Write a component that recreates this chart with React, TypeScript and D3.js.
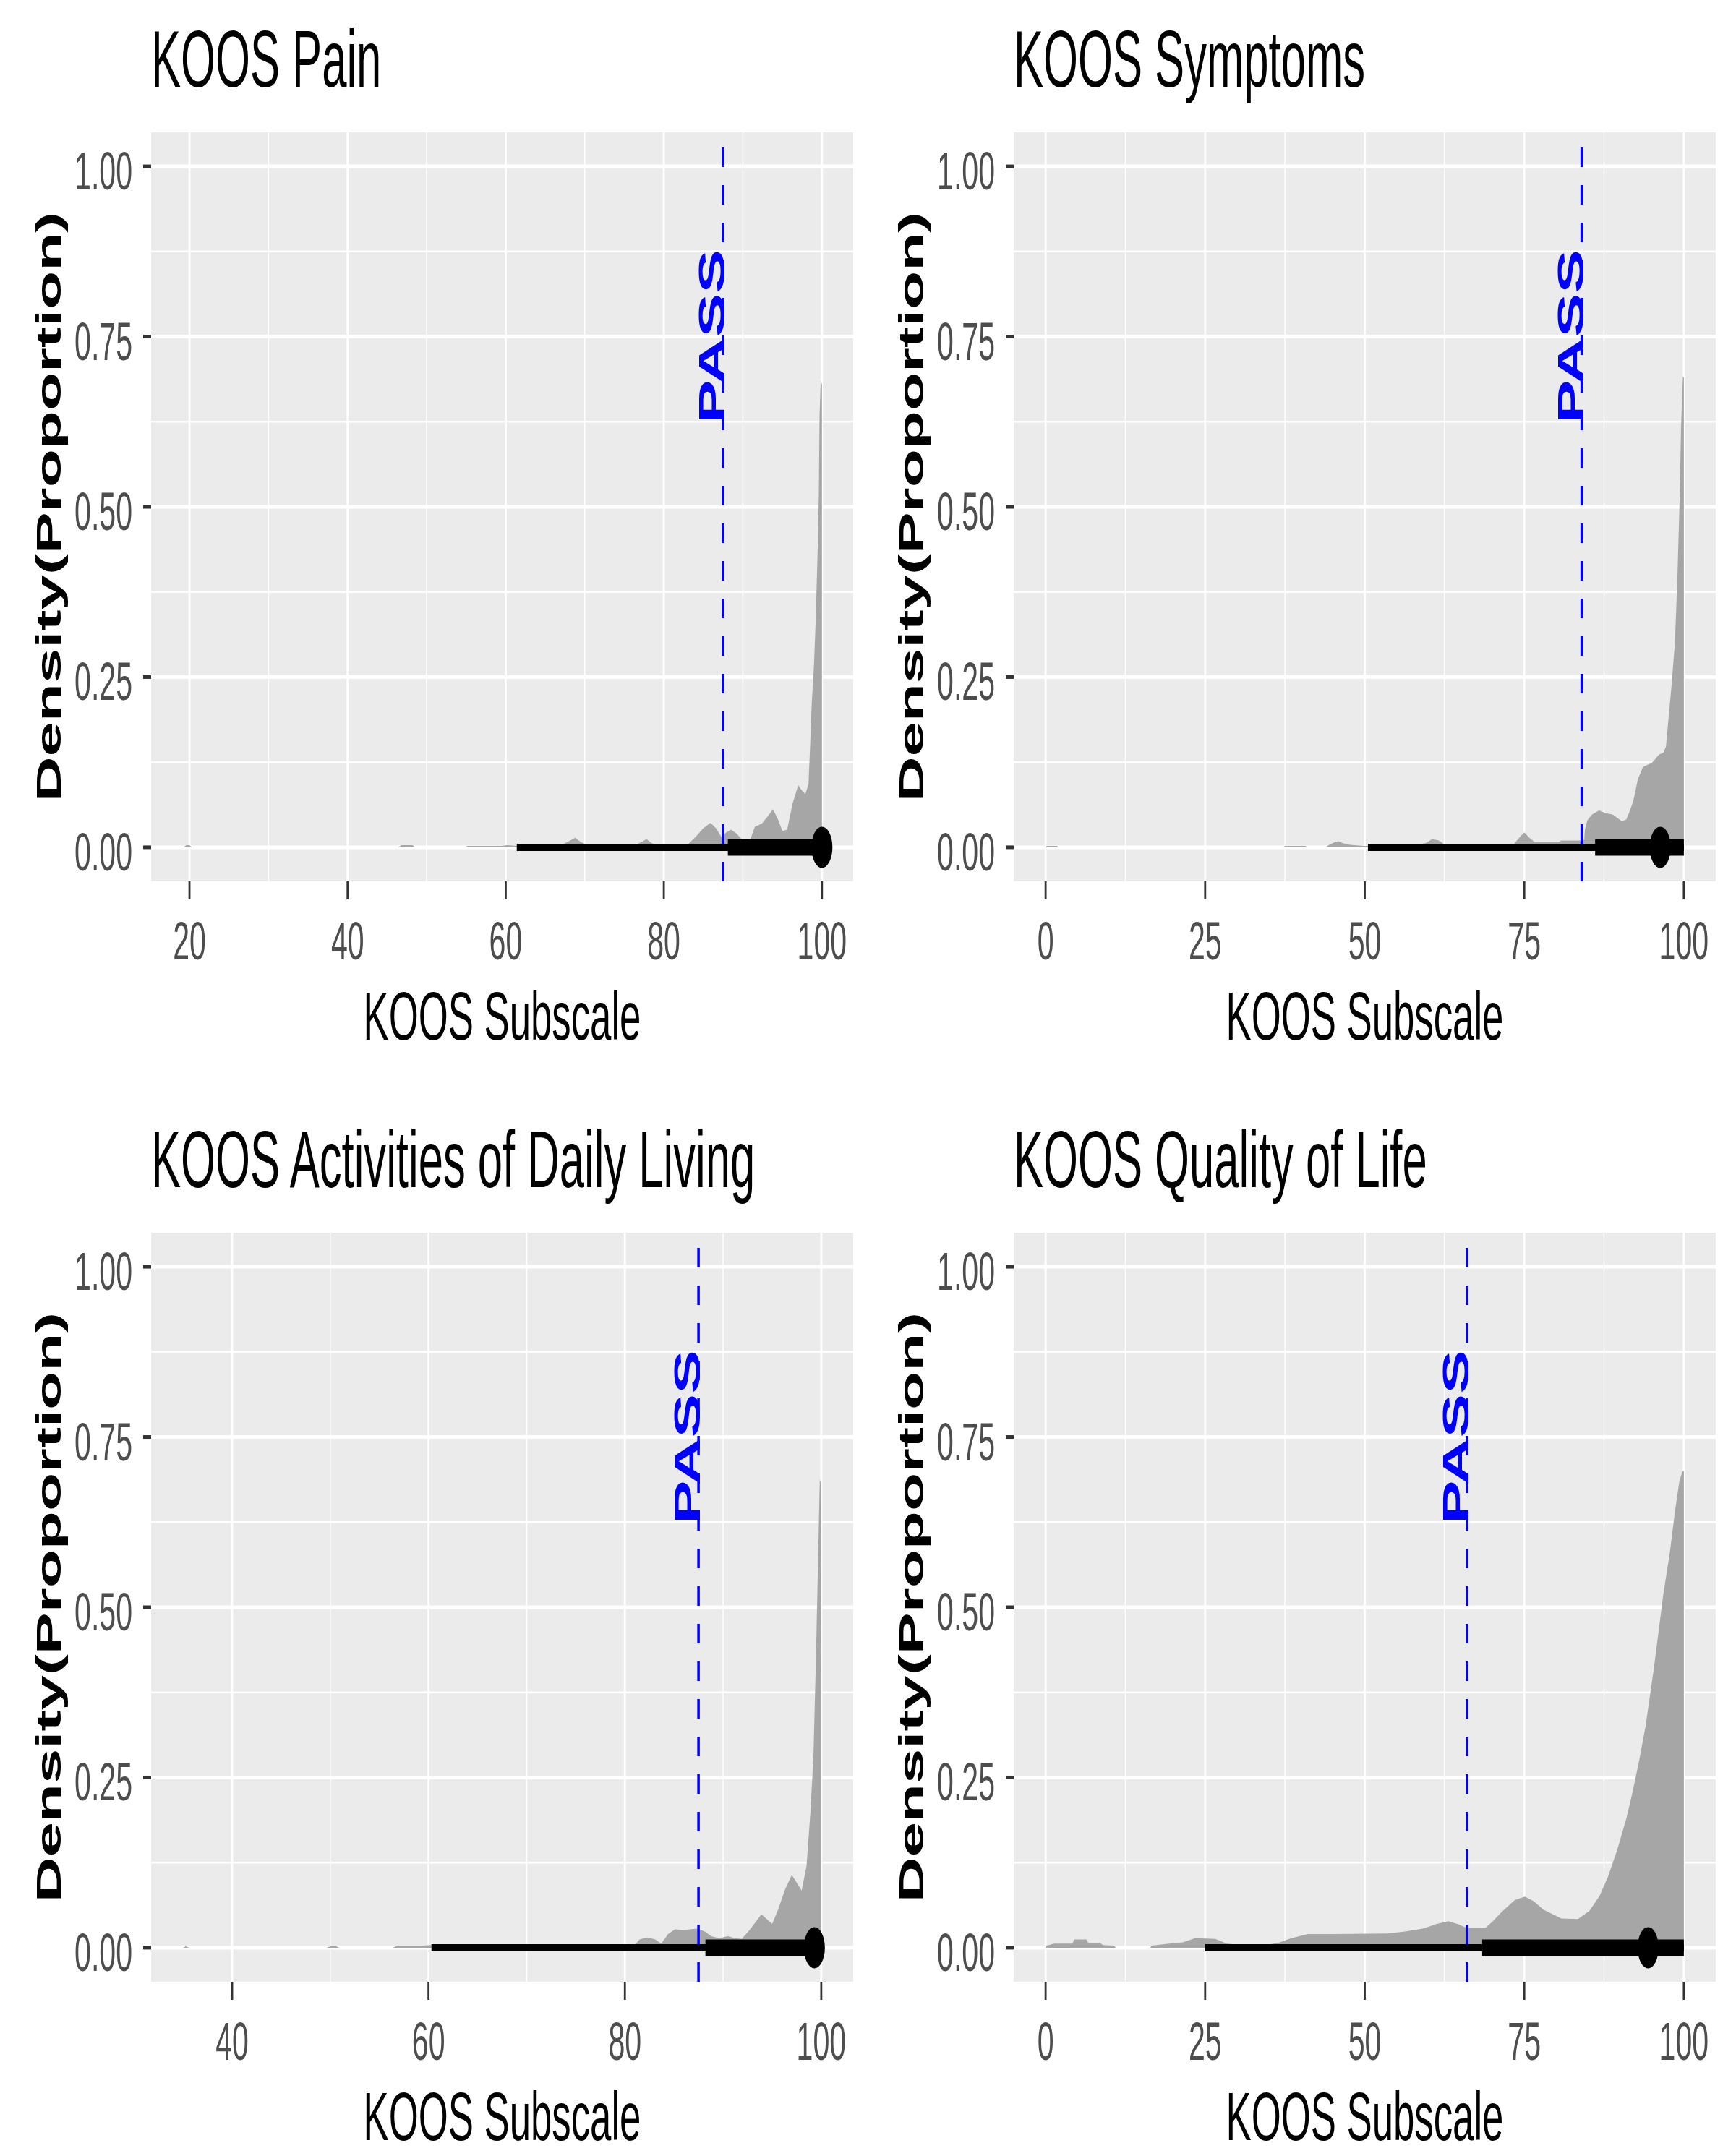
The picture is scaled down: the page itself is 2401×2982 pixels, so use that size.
import React, { useEffect, useRef } from "react";
import * as d3 from "d3";

// ---- data ----
const panelTitles = [
  "KOOS Pain",
  "KOOS Symptoms",
  "KOOS Activities of Daily Living",
  "KOOS Quality of Life"
];
const xTickValues = [
  [20, 40, 60, 80, 100],
  [0, 25, 50, 75, 100],
  [40, 60, 80, 100],
  [0, 25, 50, 75, 100]
];
// limits of each x scale (ggplot's 5% expansion around the data)
const xLimits = [
  [15.15, 103.95],
  [-5, 105],
  [31.75, 103.25],
  [-5, 105]
];
const yTickValues = [0, 0.25, 0.5, 0.75, 1];
const yTickLabels = ["0.00", "0.25", "0.50", "0.75", "1.00"];
const yMinorValues = [0.125, 0.375, 0.625, 0.875];

const passValues = [87.5, 84, 87.5, 66];
const thinInterval = [[61.4, 100], [50.5, 100], [60.3, 100], [25, 100]];
const thickInterval = [[88.1, 100], [86.1, 100], [88.2, 100], [68.4, 100]];
const medianValues = [100, 96.3, 99.3, 94.4];

const painScore = [19.2, 19.6, 20.0, 20.3, 46.4, 46.8, 48.2, 48.6, 54.6, 55.2, 59.5, 60.2, 61.5, 62.5, 65, 67.3, 68.0, 68.8, 69.5, 70.2, 71.0, 72.2, 73.3, 74.2, 75.4, 76.3, 77.2, 77.8, 78.5, 79.3, 81.5, 83.0, 84.0, 85.0, 85.9, 86.6, 87.3, 87.9, 88.5, 89.2, 90.0, 90.9, 91.5, 92.4, 93.2, 93.8, 94.4, 95.0, 95.6, 96.3, 97.0, 97.5, 97.9, 98.3, 98.5, 98.7, 99.0, 99.2, 99.5, 99.6, 99.7, 99.85, 100, 100];
const painDensity = [0, 0.003, 0.003, 0, 0, 0.003, 0.003, 0, 0, 0.002, 0.002, 0.003, 0.002, 0.001, 0.002, 0.005, 0.009, 0.014, 0.008, 0.004, 0.005, 0.004, 0.003, 0.005, 0.004, 0.003, 0.008, 0.012, 0.006, 0.002, 0.001, 0.004, 0.015, 0.028, 0.036, 0.028, 0.015, 0.022, 0.026, 0.02, 0.01, 0.01, 0.03, 0.035, 0.046, 0.056, 0.042, 0.024, 0.026, 0.065, 0.091, 0.083, 0.078, 0.093, 0.148, 0.209, 0.27, 0.331, 0.454, 0.514, 0.636, 0.685, 0.68, 0];

const symptomsScore = [0, 0.2, 1.8, 2.0, 37.3, 37.5, 40.7, 41, 43.8, 44.5, 45.2, 45.8, 46.6, 47.5, 48.3, 50, 54, 57, 59.5, 60.6, 61.6, 62.4, 64, 68, 71.5, 73.3, 74.2, 75.0, 75.8, 76.6, 80.4, 80.8, 84.0, 84.4, 84.5, 84.9, 85.6, 86.7, 87.8, 88.9, 90.3, 91.0, 91.6, 92.1, 92.8, 93.6, 95.0, 96.1, 96.8, 97.2, 97.5, 98.1, 98.6, 98.98, 99.35, 99.57, 99.85, 100, 100];
const symptomsDensity = [0, 0.002, 0.002, 0, 0, 0.002, 0.002, 0, 0, 0.004, 0.007, 0.009, 0.006, 0.004, 0.003, 0.002, 0.002, 0.003, 0.006, 0.012, 0.01, 0.005, 0.003, 0.002, 0.002, 0.004, 0.014, 0.022, 0.014, 0.008, 0.008, 0.01, 0.01, 0.011, 0.026, 0.04, 0.048, 0.054, 0.05, 0.048, 0.038, 0.041, 0.055, 0.069, 0.1, 0.118, 0.124, 0.136, 0.139, 0.148, 0.179, 0.24, 0.301, 0.392, 0.514, 0.618, 0.691, 0.69, 0];

const adlScore = [35.0, 35.3, 35.6, 49.6, 50.0, 50.6, 50.9, 56.4, 56.8, 59.5, 60.2, 62, 70, 78, 81.0, 81.5, 82.3, 83.1, 83.7, 84.4, 85.1, 86.0, 87.3, 88.1, 88.8, 89.6, 90.5, 91.2, 91.9, 92.7, 93.9, 95.0, 95.6, 96.3, 97.0, 98.0, 98.5, 98.9, 99.2, 99.45, 99.6, 99.75, 99.85, 100, 100];
const adlDensity = [0, 0.002, 0, 0, 0.002, 0.002, 0, 0, 0.003, 0.003, 0.004, 0.002, 0.001, 0.001, 0.004, 0.012, 0.015, 0.012, 0.006, 0.02, 0.027, 0.026, 0.028, 0.024, 0.017, 0.014, 0.017, 0.014, 0.013, 0.026, 0.049, 0.035, 0.056, 0.085, 0.107, 0.084, 0.12, 0.2, 0.28, 0.42, 0.52, 0.62, 0.688, 0.68, 0];

const qolScore = [0, 0.2, 1.3, 4.2, 4.5, 6.4, 6.7, 8.5, 9.0, 10.7, 11, 16.4, 16.6, 19.4, 21.5, 23.4, 26.6, 28.4, 31.7, 34.2, 36.7, 38.5, 41.1, 45.4, 53.7, 56.5, 59.1, 61.3, 63.1, 64.5, 66.0, 68.9, 70.0, 71.4, 73.5, 75.1, 76.5, 78.0, 80.8, 83.4, 85.2, 86.8, 88.1, 89.5, 91.0, 92.0, 93.0, 94.0, 95.3, 96.8, 97.8, 98.6, 99.3, 99.8, 100, 100];
const qolDensity = [0, 0.003, 0.006, 0.006, 0.012, 0.012, 0.007, 0.007, 0.004, 0.003, 0, 0, 0.003, 0.006, 0.008, 0.014, 0.013, 0.006, 0.003, 0.003, 0.008, 0.014, 0.02, 0.02, 0.021, 0.024, 0.028, 0.035, 0.039, 0.035, 0.029, 0.029, 0.038, 0.052, 0.07, 0.075, 0.068, 0.056, 0.043, 0.042, 0.054, 0.076, 0.104, 0.142, 0.19, 0.23, 0.275, 0.325, 0.41, 0.52, 0.58, 0.64, 0.685, 0.7, 0.7, 0];

const panelScores = [painScore, symptomsScore, adlScore, qolScore];
const panelDensities = [painDensity, symptomsDensity, adlDensity, qolDensity];

// ---- layout ----
const WIDTH = 2401,
  HEIGHT = 2982;
const PANEL_W = 971,
  PANEL_H = 1036;
const panelLefts = [209, 1402, 209, 1402];
const panelTops = [183, 183, 1705, 1705];
const SX = 0.555; // the whole picture is squeezed sideways, glyphs too
const FONT = "'Liberation Sans', Arial, Helvetica, sans-serif";
const slabColor = "#A6A6A6";

function addText(parent, x, y, str, size, opts: any = {}) {
  var g = parent
    .append("g")
    .attr(
      "transform",
      "translate(" + x + "," + y + ") scale(" + SX + ",1)" + (opts.rotate ? " rotate(-90)" : "")
    );
  g.append("text")
    .attr("text-anchor", opts.anchor || "start")
    .style("font-family", FONT)
    .style("font-size", size + "px")
    .style("font-weight", opts.bold ? "bold" : "normal")
    .style("fill", opts.fill || "#000000")
    .text(str);
}

function drawPanel(svg, i) {
  var left = panelLefts[i],
    top = panelTops[i],
    right = left + PANEL_W,
    bottom = top + PANEL_H;

  var x = d3.scaleLinear().domain(xLimits[i]).range([left, right]);
  var y = d3.scaleLinear().domain([-0.05, 1.05]).range([bottom, top]);

  var g = svg.append("g");

  // panel background
  g.append("rect")
    .attr("x", left)
    .attr("y", top)
    .attr("width", PANEL_W)
    .attr("height", PANEL_H)
    .style("fill", "#EBEBEB");

  // minor grid
  var xMinor = d3.pairs(xTickValues[i]).map(function (p) {
    return (p[0] + p[1]) / 2;
  });
  g.selectAll(".xminor")
    .data(xMinor)
    .enter()
    .append("line")
    .attr("x1", (d) => x(d))
    .attr("x2", (d) => x(d))
    .attr("y1", top)
    .attr("y2", bottom)
    .style("stroke", "#FFFFFF")
    .style("stroke-width", "1.5px");
  g.selectAll(".yminor")
    .data(yMinorValues)
    .enter()
    .append("line")
    .attr("x1", left)
    .attr("x2", right)
    .attr("y1", (d) => y(d))
    .attr("y2", (d) => y(d))
    .style("stroke", "#FFFFFF")
    .style("stroke-width", "2.6px");

  // major grid
  g.selectAll(".xmajor")
    .data(xTickValues[i])
    .enter()
    .append("line")
    .attr("x1", (d) => x(d))
    .attr("x2", (d) => x(d))
    .attr("y1", top)
    .attr("y2", bottom)
    .style("stroke", "#FFFFFF")
    .style("stroke-width", "2.8px");
  g.selectAll(".ymajor")
    .data(yTickValues)
    .enter()
    .append("line")
    .attr("x1", left)
    .attr("x2", right)
    .attr("y1", (d) => y(d))
    .attr("y2", (d) => y(d))
    .style("stroke", "#FFFFFF")
    .style("stroke-width", "5px");

  // density slab
  var pts = panelScores[i].map(function (s, k) {
    return [s, panelDensities[i][k]];
  });
  var area = d3
    .area()
    .x((d) => x(d[0]))
    .y0(y(0))
    .y1((d) => y(d[1]));
  g.append("path").attr("d", area(pts)).style("fill", slabColor);

  // interval: thin (95%), thick (66%), point (median)
  g.append("line")
    .attr("x1", x(thinInterval[i][0]))
    .attr("x2", x(thinInterval[i][1]))
    .attr("y1", y(0))
    .attr("y2", y(0))
    .style("stroke", "#000000")
    .style("stroke-width", "10px");
  g.append("line")
    .attr("x1", x(thickInterval[i][0]))
    .attr("x2", x(thickInterval[i][1]))
    .attr("y1", y(0))
    .attr("y2", y(0))
    .style("stroke", "#000000")
    .style("stroke-width", "23px");
  g.append("ellipse")
    .attr("cx", x(medianValues[i]))
    .attr("cy", y(0))
    .attr("rx", 14.5)
    .attr("ry", 28.5)
    .style("fill", "#000000");

  // PASS threshold
  var px = x(passValues[i]);
  g.append("line")
    .attr("x1", px)
    .attr("x2", px)
    .attr("y1", bottom)
    .attr("y2", top)
    .style("stroke", "#0000FF")
    .style("stroke-width", "3.5px")
    .style("stroke-dasharray", "27 25");
  addText(g, px + 2, y(0.75), "PASS", 91, {
    rotate: true,
    anchor: "middle",
    bold: true,
    fill: "#0000FF"
  });

  // y axis
  g.selectAll(".ytick")
    .data(yTickValues)
    .enter()
    .append("line")
    .attr("x1", left - 11)
    .attr("x2", left)
    .attr("y1", (d) => y(d))
    .attr("y2", (d) => y(d))
    .style("stroke", "#333333")
    .style("stroke-width", "5px");
  yTickValues.forEach(function (v, k) {
    addText(g, left - 26, y(v) + 32, yTickLabels[k], 74, { anchor: "end", fill: "#4D4D4D" });
  });

  // x axis
  g.selectAll(".xtick")
    .data(xTickValues[i])
    .enter()
    .append("line")
    .attr("x1", (d) => x(d))
    .attr("x2", (d) => x(d))
    .attr("y1", bottom)
    .attr("y2", bottom + 25)
    .style("stroke", "#333333")
    .style("stroke-width", "2.8px");
  xTickValues[i].forEach(function (v) {
    addText(g, x(v), bottom + 108, String(v), 74, { anchor: "middle", fill: "#4D4D4D" });
  });

  // titles
  addText(g, left, top - 63, panelTitles[i], 111);
  addText(g, left + PANEL_W / 2, bottom + 219, "KOOS Subscale", 95, { anchor: "middle" });
  addText(g, left - 125, top + PANEL_H / 2, "Density(Proportion)", 87, {
    rotate: true,
    anchor: "middle",
    bold: true
  });
}

function drawChart(el) {
  d3.select(el).selectAll("*").remove();
  var svg = d3
    .select(el)
    .append("svg")
    .attr("width", WIDTH)
    .attr("height", HEIGHT)
    .style("position", "absolute")
    .style("left", "0px")
    .style("top", "0px")
    .style("background", "#FFFFFF");

  for (var i = 0; i < panelTitles.length; i++) {
    drawPanel(svg, i);
  }
}

export default function App() {
  const container = useRef(null);
  useEffect(() => {
    drawChart(container.current);
  }, []);
  return <div ref={container} />;
}
